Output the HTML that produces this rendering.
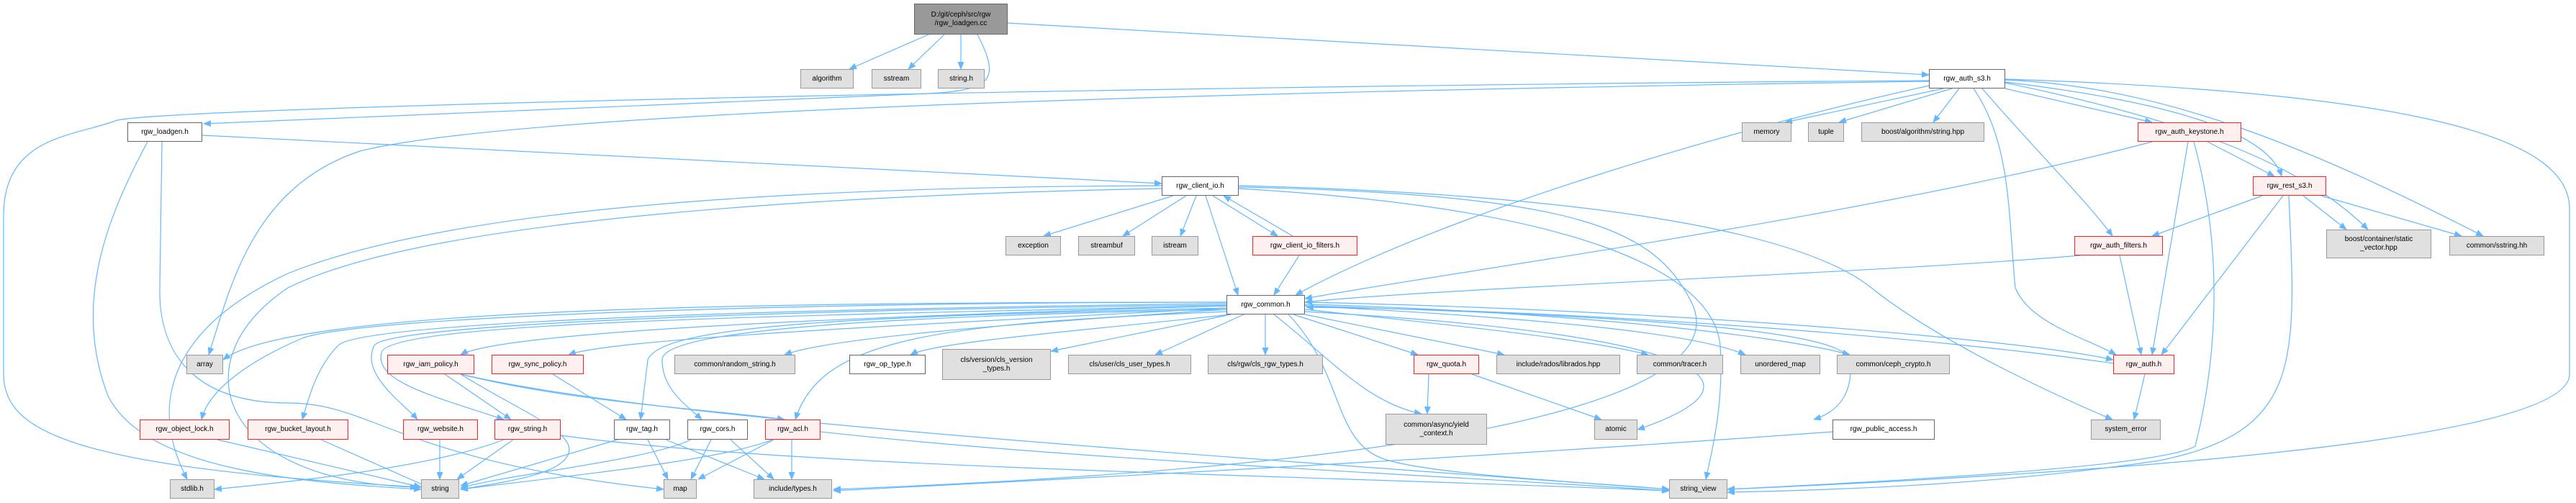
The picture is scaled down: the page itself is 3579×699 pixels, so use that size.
<!DOCTYPE html>
<html><head><meta charset="utf-8"><style>
html,body{margin:0;padding:0;background:#fff;}
#c{position:relative;width:3579px;height:699px;overflow:hidden;font-family:"Liberation Sans",sans-serif;font-size:10px;}
svg{position:absolute;left:0;top:0;}
.n{position:absolute;box-sizing:border-box;display:flex;align-items:center;justify-content:center;text-align:center;line-height:12px;color:#000;white-space:nowrap;}
.g{background:#e0e0e0;border:1px solid #999;}
.w{background:#fff;border:1px solid #666;}
.r{background:#fff0f0;border:1px solid #ff2020;}
.m{background:#999;border:1px solid #666;}
</style></head><body><div id="c">
<svg width="3579" height="699" viewBox="0 0 3579 699">
<defs><marker id="a" markerWidth="11" markerHeight="9" refX="10" refY="4.5" orient="auto" markerUnits="userSpaceOnUse"><path d="M0,0 L11,4.5 L0,9 z" fill="#63b8ff"/></marker></defs>
<g fill="none" stroke="#63b8ff" stroke-width="1.2" marker-end="url(#a)">
<path d="M1290,48 L1180,96"/>
<path d="M1312,48 L1262,96"/>
<path d="M1335,48 L1335,96"/>
<path d="M1400,32 L2680,104"/>
<path d="M1358,48 C1390,110 1380,125 1290,130 L283,172"/>
<path d="M2680,112 C1500,120 200,150 160,168 C100,190 5,190 5,300 L5,520 C5,600 100,650 585,677"/>
<path d="M2680,113 C1500,130 700,160 500,210 C350,260 320,400 290,493"/>
<path d="M2685,118 C2400,180 2000,300 1800,410"/>
<path d="M2700,123 L2480,170"/>
<path d="M2712,123 L2555,170"/>
<path d="M2722,123 L2686,170"/>
<path d="M2786,123 L2990,170"/>
<path d="M2754,123 C2820,200 2900,280 2935,328"/>
<path d="M2786,114 C3000,140 3150,180 3170,245"/>
<path d="M2786,115 C3050,170 3200,230 3290,319"/>
<path d="M2786,111 C3000,120 3200,200 3450,328"/>
<path d="M2742,123 C2795,200 2790,300 2800,400 C2820,450 2900,470 2940,493"/>
<path d="M2786,110 C3400,130 3570,200 3570,290 L3570,520 C3570,600 3100,650 2400,680"/>
<path d="M2990,197 C2600,300 2000,380 1813,415"/>
<path d="M3040,197 L2990,493"/>
<path d="M3067,197 L3160,245"/>
<path d="M3048,197 C3090,350 3080,500 3050,620 C3000,650 2600,670 2400,680"/>
<path d="M3143,272 L2990,328"/>
<path d="M3172,272 L3003,493"/>
<path d="M3200,272 L3260,319"/>
<path d="M3225,272 L3420,328"/>
<path d="M3180,272 C3190,500 3200,600 3000,640 C2800,670 2600,680 2400,684"/>
<path d="M2890,355 C2600,380 2000,400 1813,420"/>
<path d="M2945,355 L2975,493"/>
<path d="M1630,272 L1450,328"/>
<path d="M1648,272 L1560,328"/>
<path d="M1662,272 L1640,328"/>
<path d="M1685,272 L1775,328"/>
<path d="M1796,328 L1700,272"/>
<path d="M1805,355 L1770,410"/>
<path d="M1675,272 L1720,410"/>
<path d="M1614,262 C1200,270 600,300 400,400 C250,500 300,670 580,677"/>
<path d="M1614,258 C1000,260 600,300 400,380 C250,450 200,550 260,666"/>
<path d="M1721,262 C2200,290 2380,380 2390,480 C2395,560 2380,620 2370,666"/>
<path d="M1721,260 C2200,270 2300,320 2350,420 C2400,520 2200,640 1158,680"/>
<path d="M1721,258 C2200,270 2500,320 2600,400 C2700,480 2880,560 2935,583"/>
<path d="M281,188 L1614,255"/>
<path d="M205,197 C150,300 100,420 150,550 C200,650 400,670 585,680"/>
<path d="M225,197 L222,400 C220,500 280,560 400,560 C520,560 550,640 922,680"/>
<path d="M1704,420 C1000,420 400,430 310,500"/>
<path d="M1704,425 C1200,440 700,460 640,493"/>
<path d="M1704,428 C1300,450 850,470 790,493"/>
<path d="M1704,430 C1400,450 1150,470 1090,493"/>
<path d="M1710,437 C1500,460 1300,475 1265,493"/>
<path d="M1710,437 L1460,488"/>
<path d="M1728,437 L1605,493"/>
<path d="M1758,437 L1758,493"/>
<path d="M1797,437 L1970,493"/>
<path d="M1813,437 L2090,493"/>
<path d="M1813,430 C2000,450 2200,470 2290,493"/>
<path d="M1813,425 C2100,440 2350,460 2425,493"/>
<path d="M1813,423 C2100,430 2450,460 2570,493"/>
<path d="M1813,420 C2300,430 2800,470 2936,500"/>
<path d="M2936,505 C2700,470 2200,430 1815,427"/>
<path d="M1704,420 C1100,420 500,440 420,470 C350,500 290,540 280,583"/>
<path d="M1704,422 C1000,430 500,450 470,480 C440,510 430,550 420,583"/>
<path d="M1704,424 C1100,430 540,450 520,480 C500,520 560,560 580,583"/>
<path d="M1704,425 C1000,440 540,450 530,490 C520,530 600,550 700,583"/>
<path d="M1704,428 C1200,440 920,450 900,500 L890,583"/>
<path d="M1704,430 C1200,440 920,460 920,500 C920,540 950,560 975,583"/>
<path d="M1704,433 C1300,450 1140,470 1105,583"/>
<path d="M1770,437 C1850,500 1900,560 1975,575"/>
<path d="M1790,437 C1870,520 1850,620 1930,640 C2000,660 2200,670 2319,680"/>
<path d="M1813,433 C2300,460 2500,520 2275,597"/>
<path d="M1813,425 C2300,440 2560,460 2570,500 C2575,540 2560,570 2520,583"/>
<path d="M1985,520 L1983,575"/>
<path d="M2045,520 L2225,583"/>
<path d="M618,520 L710,583"/>
<path d="M640,520 C720,570 800,600 790,630 C780,660 700,670 640,680"/>
<path d="M640,520 C800,560 1000,570 1090,583"/>
<path d="M640,520 C900,580 1500,620 2319,680"/>
<path d="M768,520 L870,583"/>
<path d="M302,611 L585,677"/>
<path d="M446,611 L595,677"/>
<path d="M611,611 L611,666"/>
<path d="M700,611 C600,650 400,670 298,680"/>
<path d="M713,611 L635,666"/>
<path d="M779,605 C1100,650 1800,660 2319,682"/>
<path d="M858,611 L640,675"/>
<path d="M900,611 L928,666"/>
<path d="M925,611 L1062,666"/>
<path d="M960,611 C900,640 700,660 640,678"/>
<path d="M988,611 L960,666"/>
<path d="M1015,611 L1075,666"/>
<path d="M1073,611 C1000,640 800,660 640,680"/>
<path d="M1075,611 L970,666"/>
<path d="M1100,611 L1100,666"/>
<path d="M1140,600 C1500,640 2000,660 2319,682"/>
<path d="M2546,600 C2000,640 1400,670 1158,682"/>
<path d="M2980,520 L2965,583"/>
</g></svg>
<div class="n m" style="left:1270px;top:5px;width:130px;height:43px;">D:/git/ceph/src/rgw<br>/rgw_loadgen.cc</div>
<div class="n g" style="left:1112px;top:96px;width:74px;height:27px;">algorithm</div>
<div class="n g" style="left:1211px;top:96px;width:69px;height:27px;">sstream</div>
<div class="n g" style="left:1303px;top:96px;width:65px;height:27px;">string.h</div>
<div class="n w" style="left:2680px;top:96px;width:106px;height:27px;">rgw_auth_s3.h</div>
<div class="n w" style="left:177px;top:170px;width:104px;height:27px;">rgw_loadgen.h</div>
<div class="n g" style="left:2420px;top:170px;width:69px;height:27px;">memory</div>
<div class="n g" style="left:2512px;top:170px;width:50px;height:27px;">tuple</div>
<div class="n g" style="left:2586px;top:170px;width:171px;height:27px;">boost/algorithm/string.hpp</div>
<div class="n r" style="left:2970px;top:170px;width:144px;height:27px;">rgw_auth_keystone.h</div>
<div class="n w" style="left:1614px;top:245px;width:107px;height:27px;">rgw_client_io.h</div>
<div class="n r" style="left:3130px;top:245px;width:102px;height:27px;">rgw_rest_s3.h</div>
<div class="n g" style="left:1397px;top:328px;width:77px;height:27px;">exception</div>
<div class="n g" style="left:1498px;top:328px;width:79px;height:27px;">streambuf</div>
<div class="n g" style="left:1600px;top:328px;width:65px;height:27px;">istream</div>
<div class="n r" style="left:1740px;top:328px;width:146px;height:27px;">rgw_client_io_filters.h</div>
<div class="n r" style="left:2882px;top:328px;width:123px;height:27px;">rgw_auth_filters.h</div>
<div class="n g" style="left:3232px;top:319px;width:146px;height:40px;">boost/container/static<br>_vector.hpp</div>
<div class="n g" style="left:3403px;top:328px;width:132px;height:27px;">common/sstring.hh</div>
<div class="n w" style="left:1704px;top:410px;width:109px;height:27px;">rgw_common.h</div>
<div class="n g" style="left:259px;top:493px;width:51px;height:27px;">array</div>
<div class="n r" style="left:538px;top:493px;width:121px;height:27px;">rgw_iam_policy.h</div>
<div class="n r" style="left:683px;top:493px;width:128px;height:27px;">rgw_sync_policy.h</div>
<div class="n g" style="left:937px;top:493px;width:168px;height:27px;">common/random_string.h</div>
<div class="n w" style="left:1180px;top:493px;width:106px;height:27px;">rgw_op_type.h</div>
<div class="n g" style="left:1309px;top:485px;width:151px;height:43px;">cls/version/cls_version<br>_types.h</div>
<div class="n g" style="left:1484px;top:493px;width:171px;height:27px;">cls/user/cls_user_types.h</div>
<div class="n g" style="left:1678px;top:493px;width:160px;height:27px;">cls/rgw/cls_rgw_types.h</div>
<div class="n r" style="left:1964px;top:493px;width:91px;height:27px;">rgw_quota.h</div>
<div class="n g" style="left:2079px;top:493px;width:172px;height:27px;">include/rados/librados.hpp</div>
<div class="n g" style="left:2274px;top:493px;width:120px;height:27px;">common/tracer.h</div>
<div class="n g" style="left:2418px;top:493px;width:111px;height:27px;">unordered_map</div>
<div class="n g" style="left:2552px;top:493px;width:157px;height:27px;">common/ceph_crypto.h</div>
<div class="n r" style="left:2936px;top:493px;width:85px;height:27px;">rgw_auth.h</div>
<div class="n g" style="left:1925px;top:575px;width:141px;height:43px;">common/async/yield<br>_context.h</div>
<div class="n g" style="left:2215px;top:583px;width:60px;height:28px;">atomic</div>
<div class="n w" style="left:2546px;top:583px;width:142px;height:28px;">rgw_public_access.h</div>
<div class="n g" style="left:2905px;top:583px;width:97px;height:28px;">system_error</div>
<div class="n r" style="left:194px;top:583px;width:125px;height:28px;">rgw_object_lock.h</div>
<div class="n r" style="left:344px;top:583px;width:140px;height:28px;">rgw_bucket_layout.h</div>
<div class="n r" style="left:560px;top:583px;width:104px;height:28px;">rgw_website.h</div>
<div class="n r" style="left:687px;top:583px;width:92px;height:28px;">rgw_string.h</div>
<div class="n w" style="left:853px;top:583px;width:78px;height:28px;">rgw_tag.h</div>
<div class="n w" style="left:955px;top:583px;width:84px;height:28px;">rgw_cors.h</div>
<div class="n r" style="left:1063px;top:583px;width:77px;height:28px;">rgw_acl.h</div>
<div class="n g" style="left:236px;top:666px;width:62px;height:27px;">stdlib.h</div>
<div class="n g" style="left:585px;top:666px;width:53px;height:27px;">string</div>
<div class="n g" style="left:922px;top:666px;width:46px;height:27px;">map</div>
<div class="n g" style="left:1047px;top:666px;width:109px;height:27px;">include/types.h</div>
<div class="n g" style="left:2319px;top:666px;width:81px;height:27px;">string_view</div>
</div></body></html>
